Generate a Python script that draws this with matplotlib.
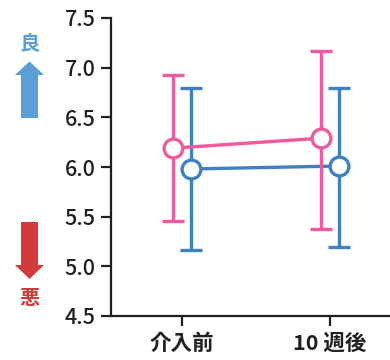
import matplotlib
matplotlib.use("Agg")
import matplotlib.pyplot as plt
from matplotlib.patches import Polygon

plt.rcParams['font.family'] = ['Noto Sans CJK JP', 'DejaVu Sans']

categories = ['介入前', '10 週後']
pink_mean = [6.19, 6.29]
pink_upper = [6.93, 7.17]
pink_lower = [5.46, 5.38]
blue_mean = [5.98, 6.01]
blue_upper = [6.80, 6.80]
blue_lower = [5.16, 5.19]
yticks = [4.5, 5.0, 5.5, 6.0, 6.5, 7.0, 7.5]

PINK = '#EE5A9E'
BLUE = '#3F80C2'
DARK = '#231F20'

fig = plt.figure(figsize=(3.9, 3.6), dpi=100)
ax = fig.add_axes([111/390, 1-316/360, 278/390, 298/360])

x = list(range(len(categories)))
off = 0.06

def series(means, lo, hi, color, dx, z):
    xs = [v + dx for v in x]
    yerr = [[m - l for m, l in zip(means, lo)], [h - m for m, h in zip(means, hi)]]
    ax.errorbar(xs, means, yerr=yerr, fmt='none', ecolor=color, elinewidth=2.4,
                capsize=8, capthick=2.4, zorder=z)
    ax.plot(xs, means, '-', color=color, lw=2.4, marker='o', ms=13.5,
            mfc='white', mec=color, mew=2.4, zorder=z + 0.5)

series(blue_mean, blue_lower, blue_upper, BLUE, off, 2)
series(pink_mean, pink_lower, pink_upper, PINK, -off, 4)

ax.set_xlim(-0.48, 1.40)
ax.set_ylim(4.5, 7.5)
ax.set_yticks(yticks)
ax.set_yticklabels([f'{v:.1f}' for v in yticks], fontsize=15.5, fontweight='medium', color=DARK)
ax.set_xticks(x)
ax.set_xticklabels(categories, fontsize=15.5, fontweight='bold', color=DARK)
for s in ['top', 'right']:
    ax.spines[s].set_visible(False)
for s in ['left', 'bottom']:
    ax.spines[s].set_color(DARK)
    ax.spines[s].set_linewidth(1.6)
ax.tick_params(axis='both', length=7, width=1.6, color=DARK)
ax.tick_params(axis='y', pad=4)
ax.tick_params(axis='x', pad=5)
ax.patch.set_visible(False)

# decoration: arrows and labels, in pixel-space overlay
ov = fig.add_axes([0, 0, 1, 1], zorder=-1)
ov.set_xlim(0, 390)
ov.set_ylim(360, 0)
ov.axis('off')
up = [(29.5, 61.5), (44, 75), (38, 75), (38, 118), (21, 118), (21, 75), (15, 75)]
down = [(21, 222), (38, 222), (38, 265), (44, 265), (29.5, 279), (15, 265), (21, 265)]
ov.add_patch(Polygon(up, closed=True, color='#5B9FD6', lw=0))
ov.add_patch(Polygon(down, closed=True, color='#D13B3B', lw=0))
ov.text(29.5, 43, '良', ha='center', va='center', fontsize=14.5, fontweight='bold', color='#5B9FD6')
ov.text(29.5, 297, '悪', ha='center', va='center', fontsize=14.5, fontweight='bold', color='#D13B3B')

fig.savefig('out.png', dpi=100)
